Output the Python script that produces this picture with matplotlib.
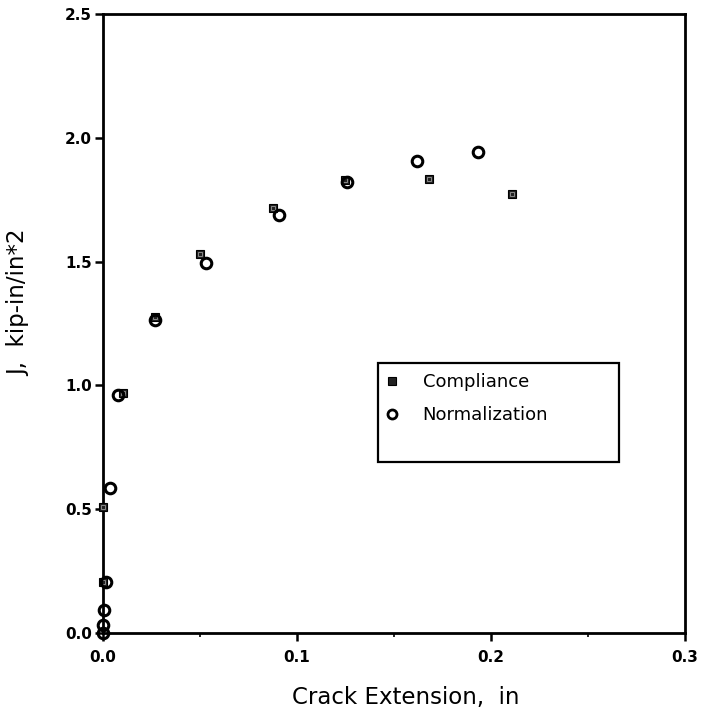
import matplotlib
matplotlib.use("Agg")
import matplotlib.pyplot as plt
from matplotlib.patches import Rectangle
from matplotlib.lines import Line2D
from matplotlib.ticker import MultipleLocator

plt.rcParams['font.family'] = ['DejaVu Sans']

# Crack extension (in) and J-integral (kip-in/in^2)
compliance_da = [0.0, 0.0, 0.0105, 0.0268, 0.050, 0.0875, 0.125, 0.168, 0.211]
compliance_j = [0.207, 0.508, 0.968, 1.277, 1.530, 1.718, 1.830, 1.832, 1.772]

normalization_da = [0.0, 0.0, 0.0005, 0.0014, 0.0036, 0.0076, 0.027, 0.053, 0.0906, 0.126, 0.1617, 0.1935]
normalization_j = [0.0, 0.032, 0.093, 0.207, 0.584, 0.961, 1.264, 1.495, 1.687, 1.820, 1.907, 1.941]

x_ticks = [0.0, 0.1, 0.2, 0.3]
y_ticks = [0.0, 0.5, 1.0, 1.5, 2.0, 2.5]

fig = plt.figure(figsize=(7.01, 7.17), dpi=100)
ax = fig.add_axes([0.1469, 0.1172, 0.8303, 0.8633])

# filled squares with a small light centre
ax.plot(compliance_da, compliance_j, linestyle='none', marker='s', markersize=6.2,
        markerfacecolor='#222222', markeredgecolor='black', markeredgewidth=0.8,
        clip_on=False, zorder=3)
ax.plot(compliance_da, compliance_j, linestyle='none', marker='s', markersize=2.2,
        markerfacecolor='none', markeredgecolor='#9a9a9a', markeredgewidth=0.6,
        clip_on=False, zorder=3.5)
ax.plot(normalization_da, normalization_j, linestyle='none', marker='o', markersize=7.6,
        markerfacecolor='none', markeredgecolor='black', markeredgewidth=2.2,
        clip_on=False, zorder=4)

ax.set_xlim(0.0, 0.3)
ax.set_ylim(0.0, 2.5)
ax.set_xticks(x_ticks)
ax.set_yticks(y_ticks)
ax.set_xticklabels([f"{v:.1f}" for v in x_ticks])
ax.set_yticklabels([f"{v:.1f}" for v in y_ticks])
ax.xaxis.set_minor_locator(MultipleLocator(0.05))

ax.tick_params(axis='both', which='major', direction='out', length=6, width=1.8,
               labelsize=11)
ax.tick_params(axis='x', which='major', pad=6)
ax.tick_params(axis='y', which='major', pad=2)
ax.tick_params(axis='x', which='minor', direction='out', length=3, width=1.2)
ax.tick_params(axis='y', which='minor', left=False)
for lbl in ax.get_xticklabels() + ax.get_yticklabels():
    lbl.set_fontweight('bold')

for side in ['left', 'right', 'top', 'bottom']:
    ax.spines[side].set_linewidth(2.0)

ax.set_xlabel('Crack Extension,  in', fontsize=16.5)
ax.xaxis.set_label_coords(0.52, -0.085)
ax.set_ylabel('J,  kip-in/in*2', fontsize=16.5)
ax.yaxis.set_label_coords(-0.125, 0.533)

# legend entries without frame; the frame box is drawn separately
h_sq = Line2D([], [], linestyle='none', marker='s', markersize=5.5,
              markerfacecolor='#222222', markeredgecolor='black', markeredgewidth=0.8)
h_ci = Line2D([], [], linestyle='none', marker='o', markersize=6.5,
              markerfacecolor='none', markeredgecolor='black', markeredgewidth=2.0)
leg = ax.legend([h_sq, h_ci], ['Compliance', 'Normalization'],
                loc='upper left', bbox_to_anchor=(0.481, 0.42), fontsize=13,
                frameon=False, borderpad=0.0, labelspacing=0.85, handletextpad=1.2,
                borderaxespad=0.0, handlelength=1.0)
ax.add_patch(Rectangle((0.4725, 0.2763), 0.8866 - 0.4725, 0.4362 - 0.2763,
                       transform=ax.transAxes, fill=False, edgecolor='black',
                       linewidth=1.6, zorder=5))

fig.savefig('out.png', dpi=100)
